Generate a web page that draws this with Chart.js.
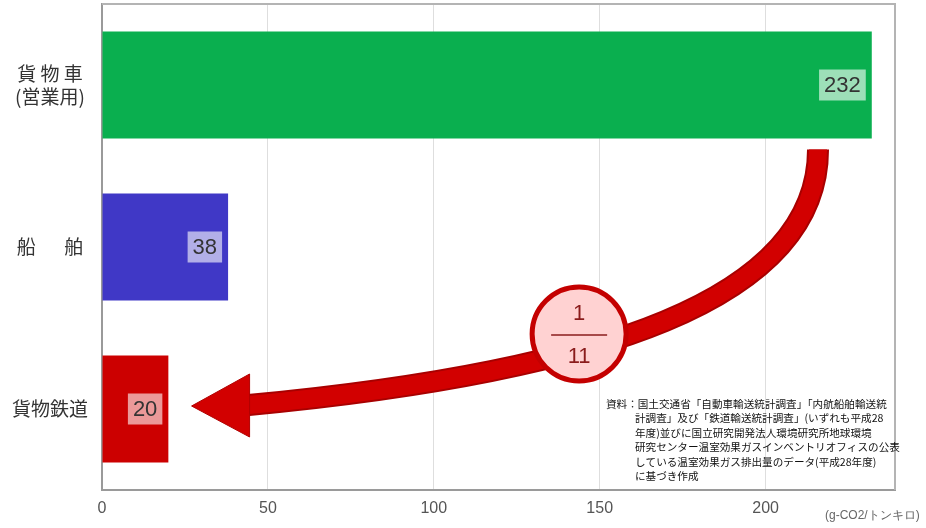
<!DOCTYPE html>
<html>
<head>
<meta charset="utf-8">
<script src="https://cdn.jsdelivr.net/npm/chart.js@4"></script>
<style>
  html, body { margin: 0; padding: 0; background: #fff; }
  #wrap { width: 926px; height: 528px; }
</style>
</head>
<body>
<div id="wrap"><canvas id="co2Chart"></canvas></div>
<script>
// CO2 per ton-km by freight mode
var categories = [['貨 物 車', '(営業用)'], '船\u3000\u2002舶', '貨物鉄道'];
var values = [232, 38, 20];
var barColors = ['#0aaf4f', '#4038c6', '#cc0000'];
var xTicks = [0, 50, 100, 150, 200];
var unitLabel = '(g-CO2/トンキロ)';
var ratioTop = '1';
var ratioBottom = '11';
var noteLines = [
  '資料：国土交通省「自動車輸送統計調査」「内航船舶輸送統',
  '計調査」及び「鉄道輸送統計調査」(いずれも平成28',
  '年度)並びに国立研究開発法人環境研究所地球環境',
  '研究センター温室効果ガスインベントリオフィスの公表',
  'している温室効果ガス排出量のデータ(平成28年度)',
  'に基づき作成'
];

var jp = '"Noto Sans CJK JP", "Noto Sans", sans-serif';
var num = '"Liberation Sans Narrow", "Liberation Sans", Arial, sans-serif';

const extras = {
  id: 'extras',
  afterDatasetsDraw(chart) {
    const ctx = chart.ctx;
    const area = chart.chartArea;
    const xs = chart.scales.x;
    const ys = chart.scales.y;
    const bars = chart.getDatasetMeta(0).data;

    // top and right frame lines
    ctx.save();
    ctx.strokeStyle = '#b4b4b4';
    ctx.lineWidth = 2;
    ctx.beginPath();
    ctx.moveTo(area.left, area.top);
    ctx.lineTo(area.right, area.top);
    ctx.lineTo(area.right, area.bottom);
    ctx.stroke();

    // value boxes
    ctx.font = '22px ' + num;
    ctx.textAlign = 'center';
    ctx.textBaseline = 'middle';
    bars.forEach((bar, i) => {
      const txt = String(values[i]);
      const w = ctx.measureText(txt).width + 10;
      const h = 31;
      const right = bar.x - 6;
      ctx.fillStyle = 'rgba(255,255,255,0.6)';
      ctx.fillRect(right - w, bar.y - h / 2, w, h);
      ctx.fillStyle = '#333';
      ctx.fillText(txt, right - w / 2, bar.y + 1);
    });

    // curved arrow from the truck bar down to the rail bar
    const sx = xs.getPixelForValue(215.8);
    const sy = bars[0].y + bars[0].height / 2 + 11;
    const tipX = xs.getPixelForValue(27);
    const tipY = bars[2].y - 4;
    const baseX = tipX + 57;
    ctx.lineCap = 'butt';
    ctx.beginPath();
    ctx.moveTo(sx, sy);
    ctx.bezierCurveTo(sx, sy + 150, xs.getPixelForValue(150), tipY - 33, baseX, tipY);
    ctx.strokeStyle = '#a80000';
    ctx.lineWidth = 22;
    ctx.stroke();
    ctx.strokeStyle = '#d20000';
    ctx.lineWidth = 18;
    ctx.stroke();
    ctx.beginPath();
    ctx.moveTo(tipX, tipY + 1);
    ctx.lineTo(baseX + 1, tipY - 31);
    ctx.lineTo(baseX + 1, tipY + 32);
    ctx.closePath();
    ctx.fillStyle = '#d20000';
    ctx.fill();
    ctx.strokeStyle = '#b00000';
    ctx.lineWidth = 1;
    ctx.stroke();

    // ratio badge
    const bx = xs.getPixelForValue(143.8);
    const by = ys.getPixelForValue(1) + 87;
    ctx.beginPath();
    ctx.arc(bx, by, 47, 0, Math.PI * 2);
    ctx.fillStyle = '#ffd2d2';
    ctx.fill();
    ctx.lineWidth = 5;
    ctx.strokeStyle = '#c40000';
    ctx.stroke();
    ctx.fillStyle = '#8a1c1c';
    ctx.font = '22px ' + num;
    ctx.textAlign = 'center';
    ctx.fillText(ratioTop, bx, by - 20);
    ctx.fillText(ratioBottom, bx, by + 23);
    ctx.strokeStyle = '#8a1c1c';
    ctx.lineWidth = 1.5;
    ctx.beginPath();
    ctx.moveTo(bx - 28, by + 1);
    ctx.lineTo(bx + 28, by + 1);
    ctx.stroke();

    // source note
    ctx.fillStyle = '#111';
    ctx.font = '10.6px ' + jp;
    ctx.textAlign = 'left';
    ctx.textBaseline = 'middle';
    noteLines.forEach((line, i) => {
      const x = i === 0 ? 606 : 635;
      ctx.fillText(line, x, 404 + i * 14.4);
    });

    // unit label
    ctx.fillStyle = '#666';
    ctx.font = '12px ' + num;
    ctx.fillText(unitLabel, 825, 516);
    ctx.restore();
  }
};

const ctx = document.getElementById('co2Chart').getContext('2d');
new Chart(ctx, {
  type: 'bar',
  data: {
    labels: categories,
    datasets: [{
      data: values,
      backgroundColor: barColors,
      borderWidth: 0,
      barPercentage: 0.66,
      categoryPercentage: 1
    }]
  },
  options: {
    indexAxis: 'y',
    responsive: true,
    maintainAspectRatio: false,
    animation: false,
    layout: { padding: { top: 4, right: 31, left: 0, bottom: 0 } },
    plugins: {
      legend: { display: false },
      tooltip: { enabled: false }
    },
    scales: {
      x: {
        min: 0,
        max: 239,
        afterBuildTicks: (scale) => {
          scale.ticks = xTicks.map(v => ({ value: v }));
        },
        afterFit: (scale) => { scale.height = 38; },
        grid: { color: '#dedede', lineWidth: 1, drawTicks: false },
        border: { color: '#9a9a9a', width: 2 },
        ticks: {
          padding: 9,
          color: '#555',
          font: { family: num, size: 16 }
        }
      },
      y: {
        afterFit: (scale) => {
          scale.width = 102;
          scale.paddingTop = 0;
          scale.paddingBottom = 0;
        },
        grid: { display: false },
        border: { color: '#9a9a9a', width: 2 },
        ticks: {
          crossAlign: 'center',
          padding: 6,
          color: '#333',
          font: { family: jp, size: 19 }
        }
      }
    }
  },
  plugins: [extras]
});
</script>
</body>
</html>
